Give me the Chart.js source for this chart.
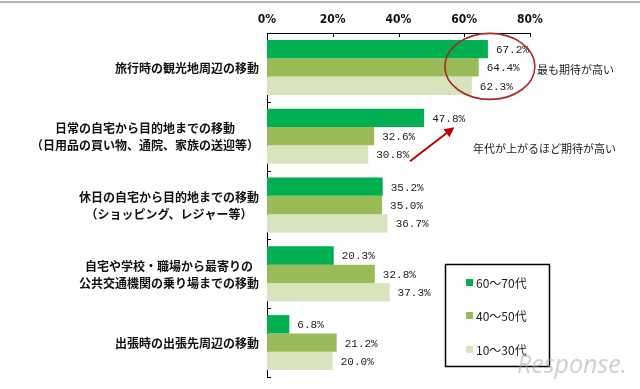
<!DOCTYPE html>
<html><head><meta charset="utf-8">
<script src="https://cdn.jsdelivr.net/npm/chart.js@4.4.1/dist/chart.umd.min.js"></script>
<style>html,body{margin:0;padding:0;background:#fff;overflow:hidden}canvas{display:block}</style>
</head><body>
<canvas id="c" width="640" height="389"></canvas>
<script>
// ---- data ----
const categories = [
  ["旅行時の観光地周辺の移動"],
  ["日常の自宅から目的地までの移動", "（日用品の買い物、通院、家族の送迎等）"],
  ["休日の自宅から目的地までの移動", "（ショッピング、レジャー等）"],
  ["自宅や学校・職場から最寄りの", "公共交通機関の乗り場までの移動"],
  ["出張時の出張先周辺の移動"]
];
const seriesNames = ["60～70代", "40～50代", "10～30代"];
const age60to70 = [67.2, 47.8, 35.2, 20.3, 6.8];
const age40to50 = [64.4, 32.6, 35.0, 32.8, 21.2];
const age10to30 = [62.3, 30.8, 36.7, 37.3, 20.0];
const xTickValues = [0, 20, 40, 60, 80];
const noteTop = "最も期待が高い";
const noteMid = "年代が上がるほど期待が高い";
const watermark = "Response.";

const colors = ["#00B050", "#9BBB59", "#D7E4BD"];
const JP = "'Noto Sans CJK JP', sans-serif";

const drawExtras = {
  id: 'drawExtras',
  afterDraw(chart) {
    const ctx = chart.ctx;
    const xs = chart.scales.x, ys = chart.scales.y;
    const area = chart.chartArea;
    ctx.save();
    // top gray rule
    ctx.fillStyle = '#b4b4b4';
    ctx.fillRect(0, 1, 640, 2);

    // inward tick marks
    ctx.strokeStyle = '#000';
    ctx.lineWidth = 1;
    ctx.beginPath();
    xTickValues.forEach(v => {
      const px = Math.round(xs.getPixelForValue(v)) + 0.5;
      ctx.moveTo(px, area.top);
      ctx.lineTo(px, area.top + 4);
    });
    const n = categories.length;
    for (let i = 1; i <= n; i++) {
      let py;
      if (i === n) py = area.bottom;
      else py = (ys.getPixelForValue(i - 1) + ys.getPixelForValue(i)) / 2;
      py = Math.round(py) + 0.5;
      ctx.moveTo(area.left, py);
      ctx.lineTo(area.left + 4, py);
    }
    ctx.stroke();

    // category labels: block right-aligned, lines centered within the block
    ctx.font = "bold 12px " + JP;
    ctx.fillStyle = '#111';
    ctx.textAlign = 'center';
    ctx.textBaseline = 'middle';
    const rightEdge = area.left - 8;
    const lh = 17;
    categories.forEach((lines, i) => {
      const cy = ys.getPixelForValue(i) + 1;
      const w = Math.max(...lines.map(l => ctx.measureText(l).width));
      const cx = rightEdge - w / 2;
      lines.forEach((l, k) => {
        const y = cy + (k - (lines.length - 1) / 2) * lh;
        ctx.fillText(l, cx, y);
      });
    });

    // value labels
    ctx.font = "11px 'Liberation Mono', monospace";
    ctx.fillStyle = '#222';
    ctx.textAlign = 'left';
    chart.data.datasets.forEach((ds, di) => {
      const meta = chart.getDatasetMeta(di);
      meta.data.forEach((bar, i) => {
        ctx.fillText(ds.data[i].toFixed(1) + '%', bar.x + 8, bar.y + 1);
      });
    });

    // ellipse annotation
    const ex = xs.getPixelForValue(67.8), ey = ys.getPixelForValue(0) - 1;
    ctx.strokeStyle = '#A52A2A';
    ctx.lineWidth = 1.6;
    ctx.beginPath();
    ctx.ellipse(ex, ey, 45, 33, 0, 0, Math.PI * 2);
    ctx.stroke();
    ctx.font = "11px " + JP;
    ctx.fillStyle = '#222';
    ctx.textAlign = 'left';
    ctx.fillText(noteTop, ex + 47, ey + 3);

    // arrow annotation
    const y1 = ys.getPixelForValue(1);
    const ax0 = xs.getPixelForValue(43.5), ay0 = y1 + 25;
    const ax1 = xs.getPixelForValue(57.0), ay1 = y1 - 9;
    ctx.strokeStyle = '#C00000';
    ctx.fillStyle = '#C00000';
    ctx.lineWidth = 2;
    const ang = Math.atan2(ay1 - ay0, ax1 - ax0);
    ctx.beginPath();
    ctx.moveTo(ax0, ay0);
    ctx.lineTo(ax1 - 8 * Math.cos(ang), ay1 - 8 * Math.sin(ang));
    ctx.stroke();
    ctx.beginPath();
    ctx.moveTo(ax1, ay1);
    ctx.lineTo(ax1 - 10 * Math.cos(ang) + 5 * Math.sin(ang), ay1 - 10 * Math.sin(ang) - 5 * Math.cos(ang));
    ctx.lineTo(ax1 - 10 * Math.cos(ang) - 5 * Math.sin(ang), ay1 - 10 * Math.sin(ang) + 5 * Math.cos(ang));
    ctx.closePath();
    ctx.fill();
    ctx.font = "11px " + JP;
    ctx.fillStyle = '#222';
    ctx.fillText(noteMid, 473, y1 + 13);

    // legend box
    ctx.strokeStyle = '#000';
    ctx.lineWidth = 1.5;
    ctx.strokeRect(445.5, 264.5, 104, 102);
    ctx.font = "12px " + JP;
    const legY = [282, 315, 349];
    chart.data.datasets.forEach((ds, di) => {
      ctx.fillStyle = ds.backgroundColor;
      ctx.fillRect(466, legY[di] - 3, 7, 7);
      ctx.fillStyle = '#222';
      ctx.fillText(ds.label, 476, legY[di] + 1);
    });

    // watermark
    ctx.font = "italic 25px 'Open Sans', sans-serif";
    ctx.fillStyle = 'rgba(170,170,170,0.55)';
    ctx.fillText(watermark, 517, 366);
    ctx.restore();
  }
};

new Chart(document.getElementById('c'), {
  type: 'bar',
  data: {
    labels: categories,
    datasets: [
      { label: seriesNames[0], data: age60to70, backgroundColor: colors[0] },
      { label: seriesNames[1], data: age40to50, backgroundColor: colors[1] },
      { label: seriesNames[2], data: age10to30, backgroundColor: colors[2] }
    ]
  },
  options: {
    indexAxis: 'y',
    responsive: false,
    animation: false,
    events: [],
    layout: { padding: { top: 0, left: 0, right: 110, bottom: 12 } },
    datasets: { bar: { categoryPercentage: 0.8, barPercentage: 1.0, borderWidth: 0 } },
    plugins: { legend: { display: false }, tooltip: { enabled: false } },
    scales: {
      x: {
        position: 'top',
        min: 0, max: 80,
        afterBuildTicks: (s) => { s.ticks = xTickValues.map(v => ({ value: v })); },
        afterFit: (s) => { s.height = 33; },
        grid: { display: false, drawTicks: false },
        border: { display: true, color: '#000', width: 1 },
        ticks: {
          padding: 6,
          color: '#111',
          font: { family: "'Liberation Sans Narrow', 'DejaVu Sans Condensed', 'Liberation Sans', sans-serif", size: 12, weight: 'bold' },
          callback: (v) => v + '%'
        }
      },
      y: {
        afterFit: (s) => { s.width = 267; },
        grid: { display: false, drawTicks: false },
        border: { display: true, color: '#000', width: 1 },
        ticks: { display: false }
      }
    }
  },
  plugins: [drawExtras]
});
</script>
</body></html>
